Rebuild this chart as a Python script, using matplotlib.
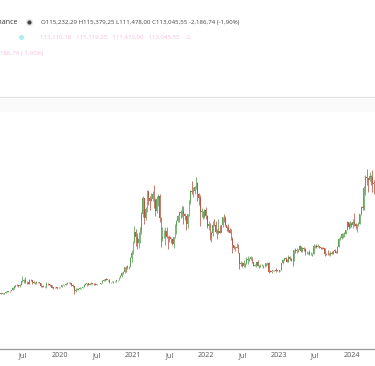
import matplotlib
matplotlib.use("Agg")
import matplotlib.pyplot as plt
import matplotlib.dates as mdates
from matplotlib.lines import Line2D
from matplotlib.patches import Rectangle
import pandas as pd

# Weekly BTC candles (thousand USD), first week starts 2019-02-25
start_week = "2019-02-25"
first_open = 3.80

closes = [
	# 2019
	3.86, 3.92, 4.02, 3.98, 4.10, 5.04, 5.07, 5.30, 5.20, 5.75, 7.25, 8.20, 8.74, 8.56, 8.00, 8.95,
	10.80, 10.80, 11.45, 10.20, 10.55, 9.55, 11.80, 11.40, 10.20, 10.14, 9.60, 10.40, 10.30, 10.00,
	8.05, 7.85, 8.30, 7.95, 9.55, 9.20, 8.80, 8.50, 7.30, 7.40, 7.50, 7.05, 7.50, 7.40, 7.75,
	# 2020
	8.90, 8.70, 8.60, 9.30, 10.15, 9.90, 9.65, 8.55, 7.95, 5.40, 5.85, 5.90, 6.80, 7.10, 7.15, 7.70,
	8.90, 9.55, 9.70, 8.90, 9.45, 9.70, 9.35, 9.30, 9.00, 9.05, 9.25, 9.18, 9.90, 11.10, 11.65, 11.90,
	11.70, 11.70, 10.30, 10.35, 10.90, 10.75, 11.05, 11.30, 11.50, 13.03, 13.78, 15.48, 15.96, 18.70,
	18.18, 19.15, 19.27, 23.86, 26.44, 33.00,
	# 2021
	38.15, 35.80, 32.27, 34.30, 39.20, 48.60, 57.50, 46.10, 50.97, 61.20, 57.35, 55.80, 57.05, 59.75,
	56.20, 50.10, 56.60, 58.23, 46.40, 34.70, 35.60, 35.80, 39.10, 35.50, 34.70, 35.30, 34.25, 31.80,
	35.40, 41.50, 44.60, 47.10, 49.30, 48.90, 49.90, 48.30, 47.30, 42.70, 48.20, 54.95, 61.50, 60.85,
	61.30, 63.30, 65.50, 59.70, 57.30, 49.40, 50.10, 46.70, 50.80, 47.30,
	# 2022
	41.85, 43.10, 35.10, 37.90, 42.40, 42.20, 38.35, 37.70, 38.80, 37.80, 42.20, 46.80, 46.40, 42.15,
	40.40, 39.45, 37.65, 34.30, 31.30, 29.45, 29.45, 29.90, 26.57, 20.55, 21.00, 19.30, 20.85, 20.80,
	22.58, 23.30, 23.18, 24.30, 21.50, 19.55, 19.80, 21.80, 19.42, 18.80, 19.31, 19.42, 19.20, 19.57,
	20.80, 21.15, 16.30, 16.28, 16.45, 17.12, 17.10, 16.78, 16.84, 16.62,
	# 2023
	17.13, 20.87, 22.70, 23.75, 23.32, 21.77, 24.63, 23.55, 22.43, 22.15, 28.05, 27.98, 28.45, 28.35,
	30.30, 27.80, 29.23, 28.90, 26.92, 27.10, 27.10, 25.84, 25.85, 26.33, 30.53, 30.60, 30.17, 30.30,
	29.78, 29.23, 29.05, 29.28, 26.10, 26.00, 25.97, 25.83, 26.53, 26.25, 27.98, 27.92, 26.86, 29.95,
	34.50, 35.05, 37.06, 37.45, 37.45, 39.45, 43.80, 41.35, 43.00, 42.28,
	# 2024
	43.95, 42.85, 41.60, 42.03, 42.58, 48.30, 52.13, 51.73, 63.10, 68.95, 68.40, 67.20, 69.65, 69.36,
	65.60, 64.95, 63.10,
]

highs = [
	# 2019
	3.95, 3.93, 4.05, 4.08, 4.12, 5.35, 5.47, 5.35, 5.65, 5.80, 7.45, 8.35, 8.95, 9.10, 8.75, 9.35,
	11.20, 13.80, 12.35, 13.20, 11.10, 10.65, 11.95, 12.30, 11.45, 10.95, 10.60, 10.90, 10.45, 10.35,
	10.05, 8.45, 8.80, 8.40, 10.50, 9.95, 9.50, 9.10, 8.50, 7.85, 7.75, 7.60, 7.60, 7.70, 7.80,
	# 2020
	8.95, 9.20, 8.75, 9.60, 10.20, 10.50, 10.20, 9.95, 9.20, 8.20, 6.90, 6.95, 7.30, 7.45, 7.30, 7.75,
	9.45, 10.05, 9.95, 9.85, 9.75, 10.40, 9.95, 9.80, 9.80, 9.35, 9.45, 9.35, 9.95, 11.40, 12.00, 12.05,
	12.45, 11.80, 12.10, 10.55, 11.10, 10.95, 11.10, 11.45, 11.70, 13.20, 14.10, 15.95, 16.35, 18.80,
	19.40, 19.90, 19.45, 24.30, 28.40, 33.30,
	# 2021
	41.95, 40.10, 37.85, 38.50, 40.90, 49.70, 58.35, 57.50, 52.60, 61.80, 60.60, 58.40, 60.20, 61.40,
	64.85, 57.50, 58.50, 59.50, 59.60, 46.60, 40.90, 39.45, 41.30, 41.10, 36.00, 36.60, 35.10, 34.70,
	35.50, 42.60, 44.80, 48.10, 49.40, 50.50, 52.90, 52.70, 48.85, 47.50, 48.50, 56.50, 62.00, 67.00,
	63.70, 64.30, 69.00, 66.30, 59.90, 59.10, 51.90, 50.20, 51.40, 52.10,
	# 2022
	47.90, 44.40, 43.50, 38.90, 44.50, 45.80, 44.70, 39.80, 45.40, 42.50, 42.35, 46.95, 48.20, 47.50,
	41.60, 42.95, 40.80, 40.00, 35.80, 31.35, 30.60, 32.20, 31.60, 26.60, 21.90, 21.50, 22.50, 21.00,
	24.30, 24.70, 23.65, 25.00, 24.50, 21.80, 20.55, 21.85, 22.80, 19.70, 20.40, 20.50, 19.70, 19.70,
	21.00, 21.50, 21.45, 17.20, 16.80, 17.20, 17.40, 18.40, 17.00, 16.95,
	# 2023
	17.20, 21.25, 23.35, 23.95, 24.25, 23.45, 25.25, 25.00, 23.90, 22.60, 28.40, 29.20, 29.20, 28.80,
	31.00, 30.50, 30.00, 29.80, 29.20, 27.65, 27.25, 28.45, 27.40, 26.80, 31.40, 31.00, 31.50, 31.80,
	30.35, 30.00, 29.75, 30.20, 29.70, 26.80, 28.15, 26.40, 27.50, 27.50, 28.00, 28.60, 28.00, 30.30,
	35.20, 35.90, 38.00, 38.00, 38.40, 39.70, 44.70, 44.00, 44.30, 43.80,
	# 2024
	45.90, 49.00, 43.20, 42.85, 43.85, 48.60, 52.80, 53.00, 64.00, 70.20, 73.80, 68.20, 71.80, 70.30,
	72.80, 67.20, 67.20,
]

lows = [
	# 2019
	3.70, 3.73, 3.83, 3.94, 3.96, 4.10, 4.92, 4.97, 5.05, 5.15, 5.70, 6.40, 7.50, 8.20, 7.45, 7.50,
	8.95, 10.30, 9.65, 10.10, 9.10, 9.20, 9.40, 11.10, 9.50, 9.80, 9.30, 9.55, 9.90, 9.65,
	7.70, 7.75, 7.80, 7.90, 7.30, 8.90, 8.65, 8.35, 6.85, 6.55, 7.20, 6.95, 6.45, 7.10, 6.90,
	# 2020
	7.60, 8.60, 8.30, 8.50, 9.15, 9.65, 9.30, 8.40, 7.65, 3.80, 4.90, 5.70, 5.85, 6.70, 6.45, 6.85,
	7.60, 8.75, 8.10, 8.80, 8.60, 9.30, 9.10, 8.90, 8.85, 8.90, 9.10, 9.05, 9.15, 9.90, 10.95, 11.10,
	11.50, 11.15, 9.90, 9.85, 10.20, 10.10, 10.40, 10.60, 11.20, 11.40, 12.90, 13.30, 14.80, 15.70,
	16.20, 17.60, 17.60, 19.00, 21.80, 26.10,
	# 2021
	32.00, 30.40, 28.85, 29.25, 32.30, 37.30, 47.00, 43.00, 45.00, 49.30, 53.30, 50.40, 55.50, 55.45,
	51.55, 47.50, 48.80, 53.00, 43.80, 30.00, 33.40, 34.80, 31.10, 34.80, 28.80, 32.70, 32.10, 31.10,
	29.30, 35.20, 37.50, 43.80, 43.95, 46.40, 46.50, 42.85, 44.80, 39.60, 40.80, 47.10, 53.90, 59.50,
	58.00, 59.40, 62.30, 55.60, 53.50, 42.00, 47.00, 45.50, 46.00, 45.70,
	# 2022
	40.50, 39.65, 34.00, 32.90, 36.25, 41.70, 38.00, 34.30, 37.20, 37.60, 38.20, 40.90, 44.20, 42.00,
	39.20, 38.55, 37.60, 33.70, 26.70, 28.60, 28.00, 29.20, 26.55, 17.60, 19.60, 18.60, 19.00, 18.90,
	20.75, 20.70, 22.40, 22.70, 20.80, 19.55, 19.50, 18.55, 19.30, 18.10, 18.80, 19.10, 18.20, 18.90,
	19.25, 20.05, 15.60, 15.80, 15.50, 16.40, 16.70, 16.30, 16.40, 16.30,
	# 2023
	16.50, 17.10, 20.40, 22.30, 22.55, 21.40, 21.50, 22.80, 21.95, 19.55, 21.90, 26.60, 26.50, 27.20,
	28.20, 27.10, 26.95, 27.70, 25.80, 26.35, 26.10, 25.40, 25.40, 24.80, 26.25, 29.50, 29.70, 29.90,
	29.50, 28.90, 28.60, 28.70, 25.20, 25.80, 25.30, 25.60, 24.90, 26.00, 26.00, 27.20, 26.55, 26.85,
	29.90, 33.90, 34.50, 34.80, 35.60, 37.00, 39.40, 40.20, 40.50, 41.30,
	# 2024
	40.75, 41.50, 40.30, 38.55, 41.90, 42.60, 47.70, 50.60, 50.90, 59.00, 64.50, 60.75, 66.80, 64.50,
	60.70, 59.60, 62.80,
]

year_labels = ["2019", "2020", "2021", "2022", "2023", "2024"]
header_exchange = "Binance"
header_ohlc = "O115,232,29 H115,379,25 L111,478,00 C113,045,55 -2,186,74 (-1,90%)"
overlay_row = "113,110,18   115,119,25   111,479,00   113,045,55   -2,"
overlay_tail = "186,74 (-1,90%)"

UP = "#5c9f55"
DOWN = "#b4563f"
W, H = 375, 366


def fx(px):
	return px / W


def fy(py):
	return 1 - py / H


fig = plt.figure(figsize=(3.75, 3.66), dpi=100)
fig.patch.set_facecolor("white")

# main pane: from separator line (y=97) down to the time axis (y=349)
ax = fig.add_axes([0, fy(349), 1, (349 - 97) / H])
ax.set_facecolor("white")

dates = pd.date_range(start_week, periods=len(closes), freq="7D")
xs = mdates.date2num(dates) + 3.5
opens = [first_open] + closes[:-1]

for x, o, h, l, c in zip(xs, opens, highs, lows, closes):
	col = UP if c >= o else DOWN
	ax.vlines(x, l, h, color=col, linewidth=0.6, alpha=0.9)
	body = max(abs(c - o), 0.15)
	ax.bar(x, body, bottom=min(o, c), width=4.6, color=col, edgecolor="none", alpha=0.95)

ax.set_xlim(mdates.date2num(pd.Timestamp("2019-03-07")), mdates.date2num(pd.Timestamp("2024-04-25")))
ax.set_ylim(-27.0, 113.8)

ax.xaxis.set_major_locator(mdates.MonthLocator(bymonth=[1, 7]))


def fmt_tick(val, pos):
	d = mdates.num2date(val)
	return str(d.year) if d.month == 1 else "Jul"


ax.xaxis.set_major_formatter(plt.FuncFormatter(fmt_tick))
ax.tick_params(axis="x", length=0, pad=2.5, labelsize=5.2, labelcolor="#555555")
ax.tick_params(axis="y", left=False, labelleft=False)
for lbl in ax.get_xticklabels():
	lbl.set_fontfamily("Open Sans")

ax.spines["left"].set_visible(False)
ax.spines["right"].set_visible(False)
ax.spines["top"].set_color("#e3e3e3")
ax.spines["top"].set_linewidth(0.9)
ax.spines["bottom"].set_color("#9a9a9a")
ax.spines["bottom"].set_linewidth(0.9)

# faint band under the separator
fig.patches.append(Rectangle((0, fy(112)), 1, (112 - 98) / H, transform=fig.transFigure,
	facecolor="#fafafa", edgecolor="none", zorder=0))

# header legend
fig.text(fx(17.5), fy(22.5), header_exchange, ha="right", va="center", fontsize=5.0,
	color="#333333", family="Open Sans")
fig.add_artist(Line2D([fx(29)], [fy(22)], marker="o", markersize=4.2, color="#e4e4e4",
	transform=fig.transFigure))
fig.add_artist(Line2D([fx(29)], [fy(22)], marker="o", markersize=2.0, color="#444444",
	transform=fig.transFigure))
fig.text(fx(41), fy(22.5), header_ohlc, ha="left", va="center", fontsize=4.4,
	color="#444444", family="Open Sans")

fig.add_artist(Line2D([fx(21)], [fy(37)], marker="o", markersize=2.6, color="#aeeeee",
	transform=fig.transFigure))
fig.text(fx(40), fy(37.5), overlay_row, ha="left", va="center", fontsize=4.4,
	color="#f6bfe0", family="Open Sans")
fig.text(fx(0), fy(53), overlay_tail, ha="left", va="center", fontsize=4.4,
	color="#f6bfe0", family="Open Sans")

fig.savefig("out.png", dpi=100)
